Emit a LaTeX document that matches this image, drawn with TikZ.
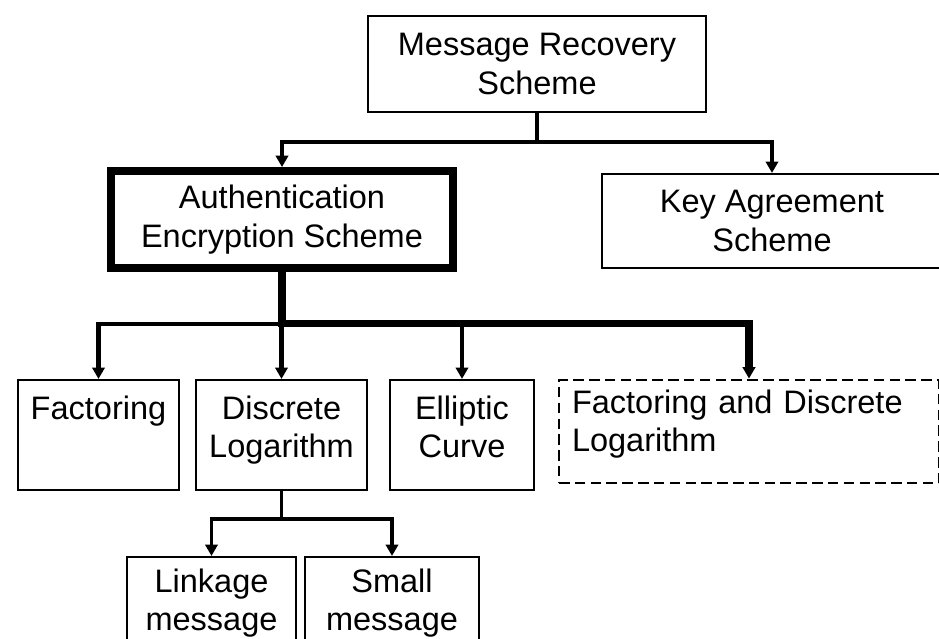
\documentclass[tikz,border=0pt]{standalone}
\usepackage{fontspec}
\setmainfont{Liberation Sans}
\usetikzlibrary{shapes,arrows.meta}

\begin{document}
\begin{tikzpicture}[>={Triangle[length=6.5pt,width=7pt]},
  font=\fontsize{18.5}{22}\selectfont,
  scheme/.style={draw, line width=1.2pt, align=center, inner sep=0pt, minimum height=1.92cm},
  method/.style={draw, line width=1.2pt, align=center, inner sep=0pt, text height=0.78cm, text depth=1.42cm},
  leafbox/.style={draw, line width=1.2pt, align=center, inner sep=0pt, text height=0.7cm, text depth=1.06cm},
  conn/.style={->, line width=2pt}]

\useasboundingbox (0,0) rectangle (18.78,-12.78);

% schemes
\node[scheme, minimum width=6.76cm] (msg) at (10.74,-1.28) {Message Recovery\\Scheme};
\node[scheme, line width=4.5pt, minimum width=6.84cm, minimum height=1.94cm] (auth) at (5.64,-4.39) {Authentication\\Encryption Scheme};
\node[scheme, minimum width=6.8cm, minimum height=1.88cm] (key) at (15.44,-4.42) {Key Agreement\\Scheme};

% hard problems
\node[method, text width=3.22cm] (fact) at (1.97,-8.7) {Factoring};
\node[method, text width=3.42cm] (disc) at (5.63,-8.7) {Discrete\\Logarithm};
\node[method, text width=2.88cm] (ell) at (9.24,-8.7) {Elliptic\\Curve};
\node[method, line width=1.6pt, dash pattern=on 6pt off 3pt, text width=7.08cm, align=left,
      inner xsep=0.26cm, text height=0.66cm, text depth=1.4cm] (fdl) at (14.98,-8.63) {Factoring and Discrete\\Logarithm};

% message types
\node[leafbox, text width=3.38cm] (linkage) at (4.23,-12.02) {Linkage\\message};
\node[leafbox, text width=3.48cm] (smallmsg) at (7.84,-12.02) {Small\\message};

% arrows
\draw[conn] (msg.south) -- ++(0,-0.58) -| (auth.north);
\draw[conn] (msg.south) -- ++(0,-0.58) -| (key.north);

\foreach \m in {fact,disc,ell}
  \draw[conn, line width=2.5pt] (auth.south) -- ++(0,-1.04) -| (\m.north);
\draw[conn, line width=4pt] (auth.south) -- ++(0,-1.04) -| (fdl.north);

\foreach \m in {linkage,smallmsg}
  \draw[conn, line width=2.2pt] (disc.south) -- ++(0,-0.56) -| (\m.north);

\end{tikzpicture}
\end{document}
